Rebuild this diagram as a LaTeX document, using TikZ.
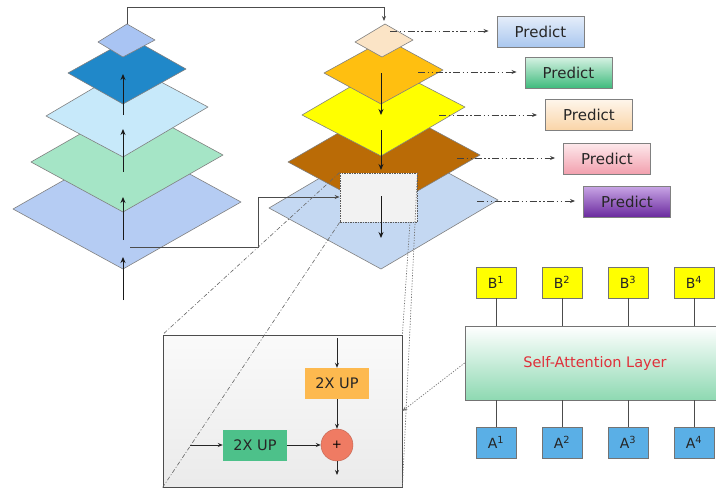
\documentclass[tikz,border=0pt]{standalone}
\usepackage{fontspec}
\setmainfont{DejaVu Sans}
\usetikzlibrary{arrows.meta}
\definecolor{lA}{HTML}{A9C4F3}
\definecolor{lB}{HTML}{2088C9}
\definecolor{lC}{HTML}{C7E9FA}
\definecolor{lD}{HTML}{A5E5C6}
\definecolor{lE}{HTML}{B5CCF3}
\definecolor{rA}{HTML}{FBE4C6}
\definecolor{rB}{HTML}{FFBF10}
\definecolor{rC}{HTML}{FFFF00}
\definecolor{rD}{HTML}{BA6B06}
\definecolor{rE}{HTML}{C4D8F2}
\definecolor{gbx}{HTML}{F2F2F2}
\definecolor{upO}{HTML}{FDB94F}
\definecolor{upG}{HTML}{4DC18A}
\definecolor{plusC}{HTML}{EF7B63}
\definecolor{bY}{HTML}{FFFF00}
\definecolor{aB}{HTML}{5AAFE6}
\definecolor{saG}{HTML}{8ED9B2}
\definecolor{saR}{HTML}{E0303A}
\definecolor{p1t}{HTML}{E6EEFA}\definecolor{p1b}{HTML}{A9C7EF}
\definecolor{p2t}{HTML}{D4F1E2}\definecolor{p2b}{HTML}{3DBA7B}
\definecolor{p3t}{HTML}{FEF6EC}\definecolor{p3b}{HTML}{FAD5A8}
\definecolor{p4t}{HTML}{FDE9EC}\definecolor{p4b}{HTML}{F2A0AE}
\definecolor{p5t}{HTML}{C9A6E6}\definecolor{p5b}{HTML}{6A2A9E}
\newcommand\layerdiamond[6]{%
  \coordinate (#1-l) at (#3);\coordinate (#1-t) at (#4);
  \coordinate (#1-r) at (#5);\coordinate (#1-b) at (#6);
  \draw[layer,fill=#2] (#1-l) -- (#1-t) -- (#1-r) -- (#1-b) -- cycle;}
\begin{document}
\begin{tikzpicture}[x=1pt,y=-1pt,
  layer/.style={draw=black!50, line width=0.6pt, line join=round},
  flow/.style={-{Stealth[length=6pt,width=5pt]}, line width=0.9pt, black!90},
  link/.style={line width=0.8pt, draw=black!70},
  linkarr/.style={link, -{Stealth[length=5pt,width=4pt]}},
  ddash/.style={line width=1pt, black!75, dash pattern=on 7pt off 2.5pt on 1.5pt off 2.5pt on 1.5pt off 2.5pt, -{Stealth[length=5pt,width=4pt]}, shorten >=8pt},
  predict/.style={draw=black!50, line width=0.9pt, minimum width=87pt, minimum height=31pt, inner sep=0pt, font=\fontsize{15}{17}\selectfont, text=black!85},
  upbox/.style={minimum width=64pt, minimum height=31pt, inner sep=0pt, font=\fontsize{14.5}{17}\selectfont, text=black!85},
  sqbox/.style={draw=black!55, line width=0.8pt, minimum width=40pt, minimum height=31pt, inner sep=0pt, font=\fontsize{14}{16}\selectfont, text=black!85},
  guide/.style={line width=0.6pt, black!60, dash pattern=on 4pt off 2pt on 1pt off 2pt},
  dotguide/.style={line width=0.7pt, black!55, dash pattern=on 1.2pt off 1.5pt},
  smallarr/.style={-{Stealth[length=5pt,width=4pt]}, line width=0.9pt, black!85}
]
\useasboundingbox (0,0) rectangle (716,488);

% ---------- left pyramid ----------
\layerdiamond{L5}{lE}{13,209}{131,142}{241,202}{123,269}
\layerdiamond{L4}{lD}{31,162}{131,105}{223,155}{123,212}
\layerdiamond{L3}{lC}{46,116}{131,66}{208,107}{123,157}
\layerdiamond{L2}{lB}{68,73}{131,38}{186,69}{123,104}
\layerdiamond{L1}{lA}{98,42}{127,24}{155,40}{123,57}

\coordinate (la0) at (123,300); \coordinate (la1) at (123,257);
\coordinate (la2) at (123,240); \coordinate (la3) at (123,197);
\coordinate (la4) at (123,172); \coordinate (la5) at (123,129);
\coordinate (la6) at (123,115); \coordinate (la7) at (123,74);
\draw[flow] (la0) -- (la1);
\draw[flow] (la2) -- (la3);
\draw[flow] (la4) -- (la5);
\draw[flow] (la6) -- (la7);

% ---------- right pyramid ----------
\layerdiamond{R5}{rE}{269,208}{386,139}{498,200}{381,269}
\layerdiamond{R4}{rD}{288,162}{387,105}{480,155}{381,212}
\layerdiamond{R3}{rC}{302,115}{386,66}{465,107}{381,156}
\layerdiamond{R2}{rB}{324,73}{386,39}{443,70}{381,104}
\layerdiamond{R1}{rA}{355,42}{385,24}{413,40}{382,57}

\node[draw=black!65, line width=0.8pt, dash pattern=on 1.5pt off 1pt, fill=gbx, minimum width=77pt, minimum height=49pt, inner sep=0pt] (gbox) at (378.5,197.5) {};

\coordinate (ra0) at (381,73);  \coordinate (ra1) at (381,115);
\coordinate (ra2) at (381,130); \coordinate (ra3) at (381,170);
\coordinate (ra4) at (381,196); \coordinate (ra5) at (381,238);
\draw[flow] (ra0) -- (ra1);
\draw[flow] (ra2) -- (ra3);
\draw[flow] (ra4) -- (ra5);

% ---------- cross connectors ----------
\coordinate (topin) at (384,21);
\draw[linkarr] (L1-t) -- (L1-t |- 0,7) -| (topin);
\coordinate (lat0) at (130,247);
\coordinate (turn) at (258,197);
\draw[linkarr] (lat0) -| (turn) -- (gbox.west |- turn);

% ---------- predict boxes ----------
\node[predict, top color=p1t, bottom color=p1b] (P1) at (540.5,31.5) {Predict};
\node[predict, top color=p2t, bottom color=p2b] (P2) at (568.5,73) {Predict};
\node[predict, top color=p3t, bottom color=p3b] (P3) at (589,114.5) {Predict};
\node[predict, top color=p4t, bottom color=p4b] (P4) at (607,158.5) {Predict};
\node[predict, top color=p5t, bottom color=p5b] (P5) at (627,201.5) {Predict};

\coordinate (d1) at (390,31);  \coordinate (d2) at (418,72);
\coordinate (d3) at (439,115); \coordinate (d4) at (457,158);
\coordinate (d5) at (477,201);
\draw[ddash] (d1) -- (P1.west |- d1);
\draw[ddash] (d2) -- (P2.west |- d2);
\draw[ddash] (d3) -- (P3.west |- d3);
\draw[ddash] (d4) -- (P4.west |- d4);
\draw[ddash] (d5) -- (P5.west |- d5);

% ---------- inset ----------
\node[draw=black!70, line width=0.8pt, top color=black!2, bottom color=black!8, minimum width=239pt, minimum height=152pt, inner sep=0pt] (inset) at (282.5,411) {};

\node[upbox, fill=upO] (up1) at (337,383.5) {2X UP};
\node[upbox, fill=upG] (up2) at (255,445) {2X UP};
\node[circle, draw=plusC!80!black, fill=plusC, minimum size=32pt, inner sep=0pt, font=\fontsize{12}{14}\selectfont] (plus) at (337,445) {+};
\coordinate (in1) at (337,338);
\coordinate (in2) at (190,445);
\coordinate (out) at (337,475);
\draw[smallarr] (in1) -- (up1.north);
\draw[smallarr] (up1.south) -- (plus.north);
\draw[smallarr] (in2) -- (up2.west);
\draw[smallarr] (up2.east) -- (plus.west);
\draw[smallarr] (plus.south) -- (out);

% guides from grey box to inset
\coordinate (gbr) at (410,222);
\draw[guide] (gbox.north west) -- (inset.north west);
\draw[guide] (gbox.south west) -- (inset.south west);
\draw[dotguide] (gbox.north east) -- (inset.south east);
\draw[dotguide] (gbr) -- (inset.north east);

% ---------- self attention ----------
\node[draw=black!55, line width=0.8pt, top color=white, bottom color=saG, minimum width=260pt, minimum height=74pt, inner sep=0pt, font=\fontsize{14.5}{16}\selectfont, text=saR] (sa) at (595,363) {Self-Attention Layer};

\foreach \i/\x in {1/496,2/562,3/628,4/694}{
  \node[sqbox, fill=bY] (B\i) at (\x,282.5) {B\textsuperscript{\i}};
  \node[sqbox, fill=aB] (A\i) at (\x,442.5) {A\textsuperscript{\i}};
  \draw[link] (B\i.south) -- (B\i.south |- sa.north);
  \draw[link] (A\i.north) -- (A\i.north |- sa.south);
}
\draw[dotguide, -{Stealth[length=5pt,width=4pt]}] (sa.west) -- (inset.east);
\end{tikzpicture}
\end{document}
